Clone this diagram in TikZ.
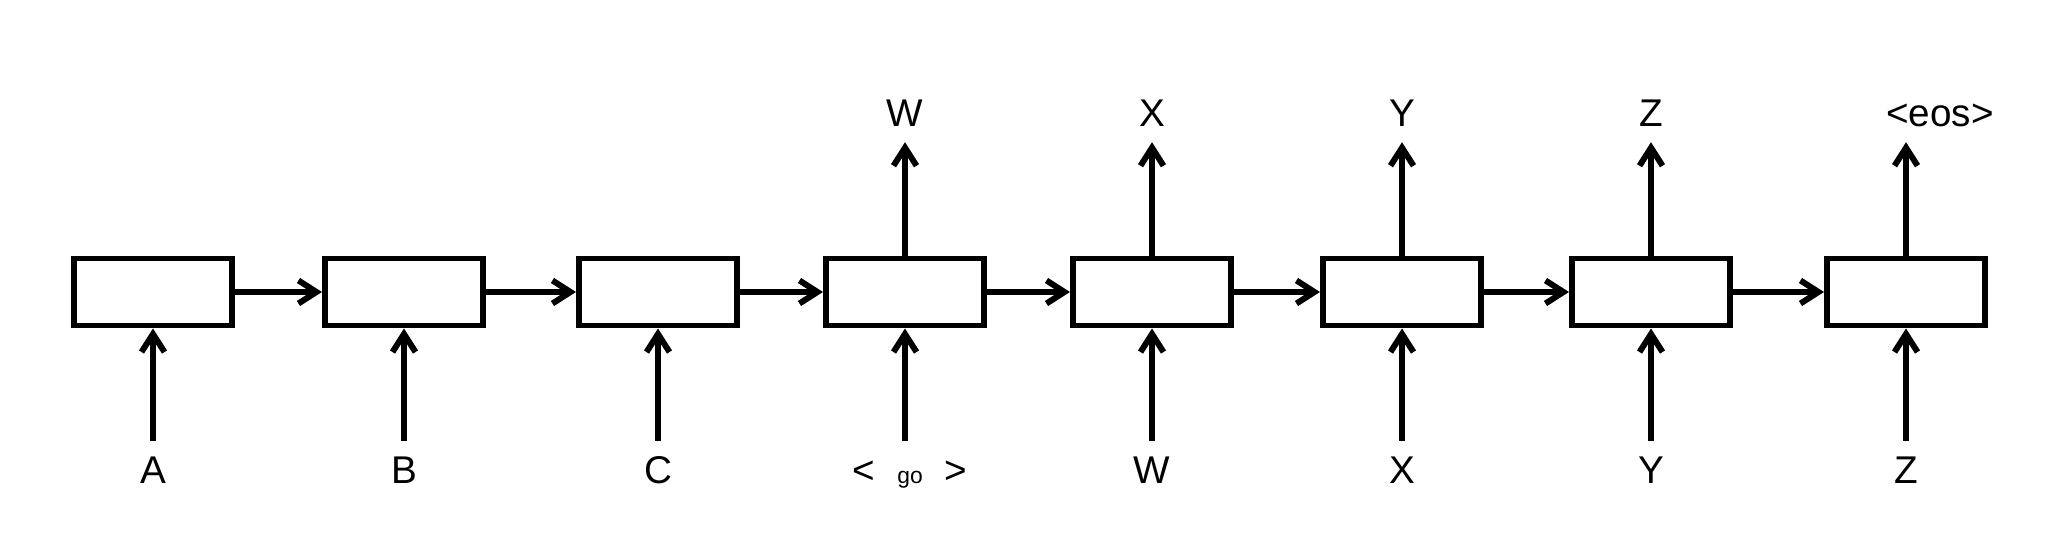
\documentclass[tikz,border=0pt]{standalone}
\usepackage{fontspec}
\setmainfont{Liberation Sans}
\usetikzlibrary{arrows.meta}

\begin{document}
\begin{tikzpicture}[
	cell/.style={rectangle, draw, line width=1.7pt, minimum width=1.58cm, minimum height=0.67cm},
	tok/.style={inner sep=0.15cm, text height=0.27cm, text depth=0pt, font=\fontsize{11}{13}\selectfont},
	arr/.style={line width=1.7pt, -{Straight Barb[length=1.8mm,width=2.3mm]}}
]
	\useasboundingbox (0,0) rectangle (20.5,5.4);

	% recurrent cells
	\node[cell] (c1) at (1.53,2.48) {};
	\node[cell] (c2) at (4.04,2.48) {};
	\node[cell] (c3) at (6.58,2.48) {};
	\node[cell] (c4) at (9.05,2.48) {};
	\node[cell] (c5) at (11.52,2.48) {};
	\node[cell] (c6) at (14.02,2.48) {};
	\node[cell] (c7) at (16.51,2.48) {};
	\node[cell] (c8) at (19.06,2.48) {};

	% input tokens
	\node[tok] (i1) at (1.53,0.70) {A};
	\node[tok] (i2) at (4.04,0.70) {B};
	\node[tok] (i3) at (6.58,0.70) {C};
	\node[tok] (i4) at (9.1,0.70) {<\hspace{0.22cm}{\fontsize{6.5}{7}\selectfont go}\hspace{0.22cm}>};
	\node[tok] (i5) at (11.52,0.70) {W};
	\node[tok] (i6) at (14.02,0.70) {X};
	\node[tok] (i7) at (16.51,0.70) {Y};
	\node[tok] (i8) at (19.06,0.70) {Z};

	% output tokens
	\node[tok] (o4) at (9.05,4.27) {W};
	\node[tok] (o5) at (11.52,4.27) {X};
	\node[tok] (o6) at (14.02,4.27) {Y};
	\node[tok] (o7) at (16.51,4.27) {Z};
	\node[tok] (o8) at (19.40,4.27) {<eos>};

	\draw[arr] (c1) -- (c2);
	\draw[arr] (c2) -- (c3);
	\draw[arr] (c3) -- (c4);
	\draw[arr] (c4) -- (c5);
	\draw[arr] (c5) -- (c6);
	\draw[arr] (c6) -- (c7);
	\draw[arr] (c7) -- (c8);

	\draw[arr] (i1) -- (c1);
	\draw[arr] (i2) -- (c2);
	\draw[arr] (i3) -- (c3);
	\draw[arr] (i4.north -| c4) -- (c4);
	\draw[arr] (i5) -- (c5);
	\draw[arr] (i6) -- (c6);
	\draw[arr] (i7) -- (c7);
	\draw[arr] (i8) -- (c8);

	\draw[arr] (c4) -- (o4);
	\draw[arr] (c5) -- (o5);
	\draw[arr] (c6) -- (o6);
	\draw[arr] (c7) -- (o7);
	\draw[arr] (c8) -- (o8.south -| c8);
\end{tikzpicture}
\end{document}
